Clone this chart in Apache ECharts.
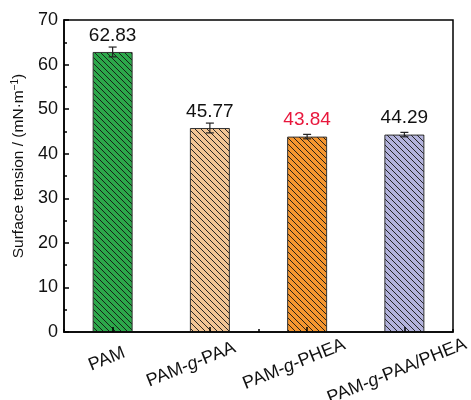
<!DOCTYPE html>
<html>
<head>
<meta charset="utf-8">
<script src="https://cdn.jsdelivr.net/npm/echarts@6/dist/echarts.min.js"></script>
<style>
  html, body { margin: 0; padding: 0; background: #fff; }
  #chart { width: 471px; height: 400px; }
</style>
</head>
<body>
<div id="chart"></div>
<script>
// Samples and measured surface tension (mN/m)
const categories = ['PAM', 'PAM-g-PAA', 'PAM-g-PHEA', 'PAM-g-PAA/PHEA'];
const tension = [62.83, 45.77, 43.84, 44.29];
const tensionErr = [1.1, 1.1, 0.5, 0.5];
const barColors = ['#2ca84a', '#f2c594', '#f5962f', '#b3b3dc'];
const labelColors = ['#111', '#111', '#e8173c', '#111'];
const yTicks = [0, 10, 20, 30, 40, 50, 60, 70];

const FONT = '"Liberation Sans", Arial, sans-serif';

// per-label nudges for the slanted category names
const catPadding = [[0, 11, 4, 0], [0, 39, 4, 0], [0, 28, 0, 0], [17, 23, 0, 0]];

// Diagonal hatch fill built on a small repeating canvas tile
function hatch(base) {
  const s = 6;
  const c = document.createElement('canvas');
  c.width = s; c.height = s;
  const g = c.getContext('2d');
  g.fillStyle = base;
  g.fillRect(0, 0, s, s);
  g.strokeStyle = 'rgba(20,20,20,0.9)';
  g.lineWidth = 1;
  for (let k = -1; k <= 1; k++) {
    g.beginPath();
    g.moveTo(k * s - 1, -1);
    g.lineTo(k * s + s + 1, s + 1);
    g.stroke();
  }
  return { image: c, repeat: 'repeat' };
}

// Category names with the italic "g"
function catLabel(name) {
  return name.split('-g-').join('-{i|g}-');
}

const chart = echarts.init(document.getElementById('chart'), null, { renderer: 'canvas' });

chart.setOption({
  animation: false,
  backgroundColor: '#fff',
  grid: {
    left: 64, right: 18, top: 20, bottom: 68,
    containLabel: false,
    outerBoundsMode: 'none',
    show: true, borderColor: '#000', borderWidth: 1.5, backgroundColor: 'transparent'
  },
  xAxis: [{
    type: 'category',
    data: categories.map((c, i) => ({
      value: c,
      textStyle: { padding: catPadding[i], align: 'center', verticalAlign: 'middle' }
    })),
    z: 10,
    axisLine: { show: true, lineStyle: { color: '#000', width: 1.5 } },
    axisTick: { show: true, inside: true, alignWithLabel: true, length: 5, lineStyle: { color: '#000', width: 1.5 } },
    axisLabel: {
      rotate: 22,
      align: 'center',
      verticalAlign: 'middle',
      margin: 27,
      fontSize: 18,
      fontFamily: FONT,
      color: '#111',
      hideOverlap: false,
      formatter: catLabel,
      rich: {
        i: { fontStyle: 'italic', fontSize: 18, fontFamily: FONT, color: '#111' }
      }
    }
  }, {
    // boundary ticks between categories
    type: 'category',
    data: categories,
    position: 'bottom',
    z: 10,
    axisLine: { show: false },
    axisTick: { show: true, inside: true, length: 3, lineStyle: { color: '#000', width: 1.5 } },
    axisLabel: { show: false }
  }],
  yAxis: {
    type: 'value',
    min: 0, max: 70, interval: 10,
    name: 'Surface tension / (mN·m{sup|−1})',
    nameLocation: 'middle',
    nameGap: 33,
    nameTextStyle: {
      fontSize: 15.5, fontFamily: FONT, color: '#111',
      padding: [0, 0, 0, 20],
      rich: { sup: { fontSize: 10, fontFamily: FONT, color: '#111', verticalAlign: 'bottom', padding: [0, 0, 8, 0] } }
    },
    axisLine: { show: true, lineStyle: { color: '#000', width: 1.5 } },
    axisTick: { show: true, inside: true, length: 5, lineStyle: { color: '#000', width: 1.5 } },
    minorTick: { show: true, splitNumber: 2, length: 3, lineStyle: { color: '#000', width: 1.5 } },
    splitLine: { show: false },
    axisLabel: {
      fontSize: 18, fontFamily: FONT, color: '#111', margin: 6,
      formatter: v => (yTicks.indexOf(v) >= 0 ? String(v) : '')
    }
  },
  series: [{
    type: 'bar',
    barWidth: 40,
    data: tension.map((v, i) => ({
      value: v,
      itemStyle: { color: hatch(barColors[i]), borderColor: '#333', borderWidth: 1 },
      label: { color: labelColors[i] }
    })),
    label: {
      show: true,
      position: 'top',
      distance: 7,
      fontSize: 19,
      fontFamily: FONT,
      formatter: p => p.value.toFixed(2)
    }
  }, {
    type: 'custom',
    z: 5,
    data: tension.map((v, i) => [i, v, tensionErr[i]]),
    renderItem: function (params, api) {
      const x = api.value(0);
      const v = api.value(1);
      const e = api.value(2);
      const hi = api.coord([x, v + e]);
      const lo = api.coord([x, v - e]);
      const cap = 4;
      const st = { stroke: '#222', lineWidth: 1.2 };
      return {
        type: 'group',
        children: [
          { type: 'line', shape: { x1: hi[0], y1: hi[1], x2: lo[0], y2: lo[1] }, style: st },
          { type: 'line', shape: { x1: hi[0] - cap, y1: hi[1], x2: hi[0] + cap, y2: hi[1] }, style: st },
          { type: 'line', shape: { x1: lo[0] - cap, y1: lo[1], x2: lo[0] + cap, y2: lo[1] }, style: st }
        ]
      };
    }
  }]
});
</script>
</body>
</html>
